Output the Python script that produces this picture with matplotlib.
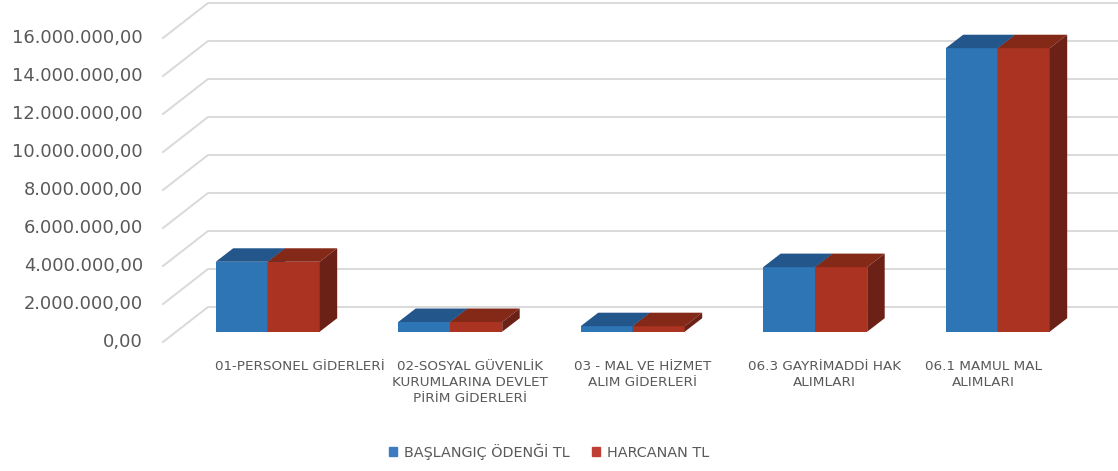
import numpy as np
import matplotlib.pyplot as plt
from matplotlib.patches import Polygon, Patch

# data (TL)
categories = [
    "01-PERSONEL GİDERLERİ",
    "02-SOSYAL GÜVENLİK\nKURUMLARINA DEVLET\nPİRİM GİDERLERİ",
    "03 - MAL VE HİZMET\nALIM GİDERLERİ",
    "06.3 GAYRİMADDİ HAK\nALIMLARI",
    "06.1 MAMUL MAL\nALIMLARI",
]
baslangic = [3680000, 510000, 290000, 3400000, 14920000]
harcanan = [3680000, 510000, 290000, 3400000, 14920000]
series_names = ["BAŞLANGIÇ ÖDENĞİ TL", "HARCANAN TL"]
yticks = np.arange(0, 16000001, 2000000)

# colours (front, top, side)
blue = ("#2E75B6", "#23568A", "#1F4C7A")
red = ("#AA3322", "#842818", "#6C2117")
text_gray = "#595959"
grid_gray = "#D9D9D9"

W, H = 1118, 471
fig = plt.figure(figsize=(W / 100, H / 100), dpi=100)
ax = fig.add_axes([0, 0, 1, 1])
ax.axis("off")

# pixel layout -> data units
step_px = 182.5        # px per category
x0_px = 267.7          # centre of first group
px_per_val = 19 / 1e6  # px per TL
base_py = 331.7        # bar bottom (front plane)


def xd(px):
    return (px - x0_px) / step_px


def yd(py):
    return (base_py - py) / px_per_val


ax.set_xlim(xd(0), xd(W))
ax.set_ylim(yd(H), yd(0))

bar_w = 52 / step_px
ddx, ddy = 17.5 / step_px, 13.5 / px_per_val  # bar depth

# floor front edge / back wall offsets
xf, yf = xd(163), yd(342)
xb, yb = xd(208), yd(307)
xr = xd(W)

# gridlines (floor diagonal + back wall)
for t in yticks:
    ax.plot([xf, xb, xr], [t + yf, t + yb, t + yb], color=grid_gray, lw=1.4, zorder=1)
    lab = f"{t:,.2f}".replace(",", "X").replace(".", ",").replace("X", ".")
    ax.text(xf - 20 / step_px, t + yf, lab, ha="right", va="center",
            fontsize=12.9, color=text_gray)

x = np.arange(len(categories))


def draw_box(xl, v, cols, z):
    xr_ = xl + bar_w
    ax.bar(xl, v, width=bar_w, align="edge", color=cols[0], zorder=z, lw=0)
    top = [(xl, v), (xr_, v), (xr_ + ddx, v + ddy), (xl + ddx, v + ddy)]
    side = [(xr_, 0), (xr_, v), (xr_ + ddx, v + ddy), (xr_ + ddx, ddy)]
    ax.add_patch(Polygon(top, closed=True, color=cols[1], lw=0, zorder=z))
    ax.add_patch(Polygon(side, closed=True, color=cols[2], lw=0, zorder=z))


for i in range(len(categories)):
    draw_box(x[i] - bar_w, baslangic[i], blue, 2)
    draw_box(x[i], harcanan[i], red, 3)

# category labels
label_shift = [23, 10, 0, 0, -24]  # px nudges like the original layout
for i, c in enumerate(categories):
    ax.text(x[i] + xd(x0_px + 9.5 + label_shift[i]), yd(360), c,
            ha="center", va="top", fontsize=9.7, color=text_gray,
            linespacing=1.3, multialignment="center")

handles = [Patch(color="#3F7BC2"), Patch(color="#BE3F36")]
fig.legend(handles, series_names, loc="center", ncol=2, frameon=False,
           bbox_to_anchor=(549 / W, 1 - 451.7 / H), fontsize=10.4,
           handlelength=0.55, handleheight=0.55, handletextpad=0.45,
           columnspacing=1.6, labelcolor=text_gray)

fig.savefig("out.png", dpi=100)
